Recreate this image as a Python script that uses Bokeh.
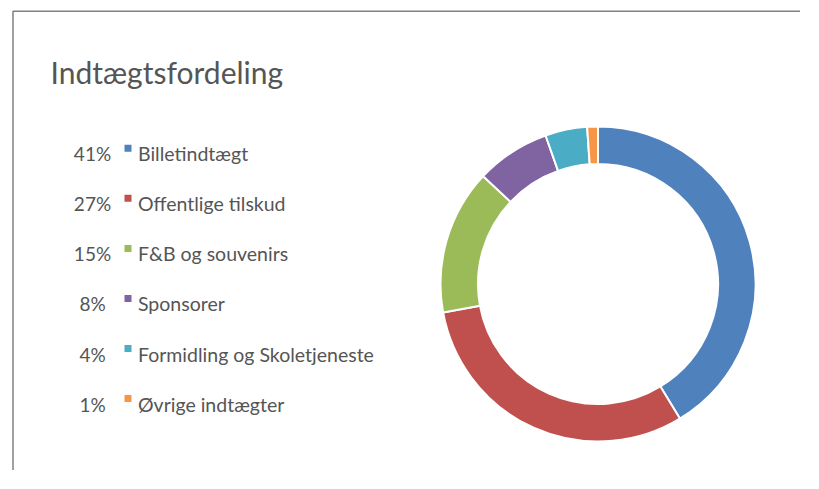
import numpy as np
from bokeh.plotting import figure
from bokeh.models import Range1d, ColumnDataSource
from bokeh.core.properties import value
from bokeh.embed import file_html
from bokeh.resources import INLINE

# ---- data ----
title = "Indtægtsfordeling"
categories = ["Billetindtægt", "Offentlige tilskud", "F&B og souvenirs",
              "Sponsorer", "Formidling og Skoletjeneste", "Øvrige indtægter"]
pct_labels = ["41%", "27%", "15%", "8%", "4%", "1%"]
shares = [41.3, 30.8, 14.9, 7.6, 4.3, 1.1]   # slice sizes as drawn in the ring
colors = ["#4F81BD", "#C0504D", "#9BBB59", "#8064A2", "#4BACC6", "#F79646"]

# ---- layout (pixel space) ----
W, H = 800, 470
FONT = value("Lato")
TXT = "#555555"

p = figure(width=W, height=H, x_range=Range1d(0, W), y_range=Range1d(0, H),
           output_backend="svg", toolbar_location=None, min_border=0,
           x_axis_location=None, y_axis_location=None)
p.grid.visible = False
p.outline_line_color = None
p.background_fill_color = "white"
p.border_fill_color = "white"


def X(rx):
    return rx


def Y(ry):
    return H - ry


# frame lines (top and left) as one open polyline
p.line(x=[W + 5, X(12.5), X(12.5)], y=[Y(10.7), Y(10.7), -5],
       line_color="#808080", line_width=1.5)

# title
p.text(x=[X(50)], y=[Y(71.7)], text=[title], text_font=FONT, text_font_size="30px",
       text_color=TXT, text_baseline="alphabetic", text_align="left")

# donut
frac = np.array(shares) / np.sum(shares)
ends = np.cumsum(frac)
starts = ends - frac
src = ColumnDataSource(dict(start=np.pi / 2 - 2 * np.pi * starts,
                            end=np.pi / 2 - 2 * np.pi * ends,
                            color=colors))
p.annular_wedge(x=X(597.5), y=Y(283.5), inner_radius=120, outer_radius=157.5,
                start_angle="start", end_angle="end", direction="clock",
                fill_color="color", line_color="white", line_width=2, source=src)

# legend with percentages
n = len(categories)
base = [153.3 + 50.05 * i for i in range(n)]
ys = [Y(b) for b in base]
p.text(x=[X(92)] * n, y=ys, text=pct_labels, text_align="center",
       text_baseline="alphabetic", text_font=FONT, text_font_size="19px", text_color=TXT)
p.rect(x=[X(127.5)] * n, y=[y + 5.5 for y in ys], width=7, height=7,
       fill_color=colors, line_color=None)
p.text(x=[X(137.5)] * n, y=ys, text=categories, text_align="left",
       text_baseline="alphabetic", text_font=FONT, text_font_size="19.5px", text_color=TXT)

open("out.html", "w").write(file_html(p, INLINE))
